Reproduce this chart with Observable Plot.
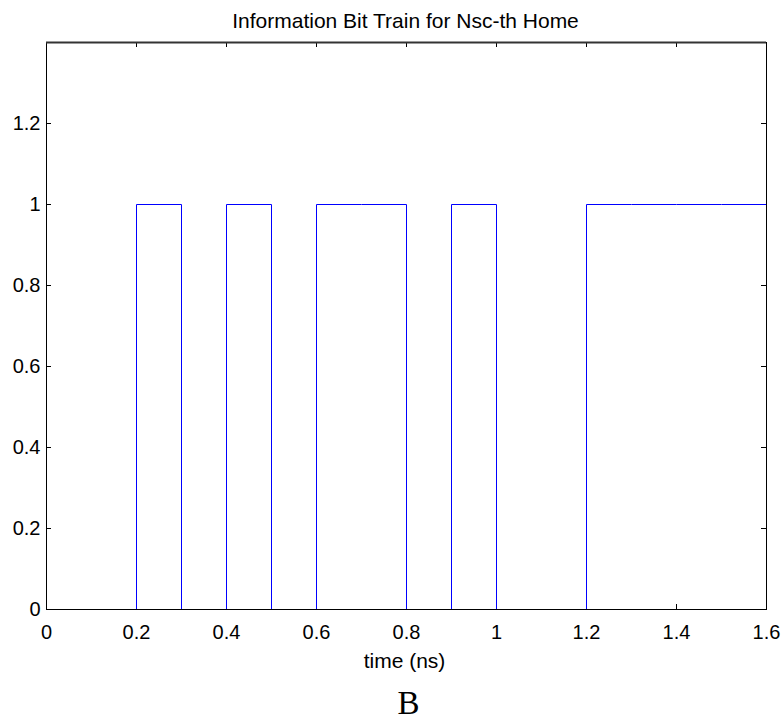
<!DOCTYPE html>
<html>
<head>
<meta charset="utf-8">
<script src="https://cdn.jsdelivr.net/npm/d3@7"></script>
<script src="https://cdn.jsdelivr.net/npm/@observablehq/plot@0.6"></script>
<style>
  body { margin: 0; background: #fff; }
  #chart { width: 783px; height: 723px; }
</style>
</head>
<body>
<div id="chart"></div>
<script>
// Bit train sampled every 0.1 ns (last value repeated to close the final step)
const times = [0, 0.1, 0.2, 0.3, 0.4, 0.5, 0.6, 0.7, 0.8, 0.9, 1.0, 1.1, 1.2, 1.3, 1.4, 1.5, 1.6];
const bits  = [0, 0,   1,   0,   1,   0,   1,   1,   0,   1,   0,   0,   1,   1,   1,   1,   1];
const xTicks = [0, 0.2, 0.4, 0.6, 0.8, 1, 1.2, 1.4, 1.6];
const yTicks = [0, 0.2, 0.4, 0.6, 0.8, 1, 1.2];
const xDomain = [0, 1.6];
const yDomain = [0, 1.4];
const titleText = "Information Bit Train for Nsc-th Home";
const xLabel = "time (ns)";
const captionText = "B";

const data = times.map((t, i) => ({t, b: bits[i]}));

const W = 783, H = 723;
const mL = 46, mR = 17, mT = 42, mB = 114;
const fw = W - mL - mR, fh = H - mT - mB;
const tk = 5;

const plot = Plot.plot({
  width: W, height: H,
  marginLeft: mL, marginRight: mR, marginTop: mT, marginBottom: mB,
  style: {fontFamily: "'Liberation Sans', Arial, sans-serif", background: "#fff", color: "#000"},
  x: {domain: xDomain, ticks: xTicks},
  y: {domain: yDomain, ticks: yTicks},
  marks: [
    Plot.axisX(xTicks, {tickSize: 0, tickPadding: 15, fontSize: 20, label: null, tickFormat: d => String(d)}),
    Plot.axisY(yTicks, {tickSize: 0, tickPadding: 6, fontSize: 20, label: null, tickFormat: d => String(d)}),
    // inward ticks on all four sides
    Plot.tickX(xTicks, {x: d => d, insetTop: fh - tk, stroke: "#000"}),
    Plot.tickX(xTicks, {x: d => d, insetBottom: fh - tk, stroke: "#000"}),
    Plot.tickY(yTicks, {y: d => d, insetRight: fw - tk, stroke: "#000"}),
    Plot.tickY(yTicks, {y: d => d, insetLeft: fw - tk, stroke: "#000"}),
    Plot.line(data, {x: "t", y: "b", curve: "step-after", stroke: "#0000ff", strokeWidth: 1}),
    Plot.frame({stroke: "#000"}),
    Plot.ruleY([yDomain[1]], {stroke: "#333", strokeWidth: 2}),
    Plot.text([titleText], {frameAnchor: "top", lineAnchor: "bottom", dy: -15, dx: -1, fontSize: 21, fill: "#000"}),
    Plot.text([xLabel], {frameAnchor: "bottom", lineAnchor: "bottom", dy: 58, dx: -2, fontSize: 21, fill: "#000"}),
    Plot.text([captionText], {frameAnchor: "bottom", lineAnchor: "bottom", dy: 104, dx: 2, fontSize: 33, fill: "#000", fontFamily: "'Liberation Serif', 'Times New Roman', serif"})
  ]
});
document.getElementById("chart").appendChild(plot);
</script>
</body>
</html>
